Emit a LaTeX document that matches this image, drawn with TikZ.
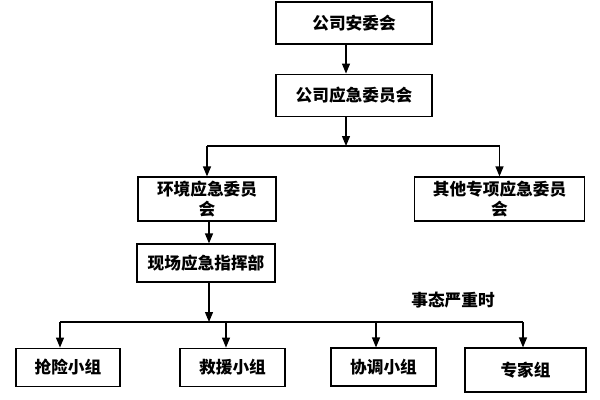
\documentclass[tikz,border=0pt]{standalone}
\usepackage{fontspec}
\newfontfamily\cjk{Noto Sans CJK SC}
\usetikzlibrary{arrows.meta}

\tikzset{
  box/.style={draw, line width=0.9pt, inner sep=0pt, align=center,
    font=\cjk\bfseries\fontsize{12.5}{15}\selectfont},
  arr/.style={line width=0.9pt, -{Triangle[length=7.5pt,width=6pt]}},
  bus/.style={line width=0.9pt}
}

\begin{document}
\begin{tikzpicture}[x=0.75pt, y=-0.75pt]
  \useasboundingbox (0,0) rectangle (600,400);
  % top
  \node[box, minimum width=117pt, minimum height=31.5pt] (anwei) at (354,23) {公司安委会};
  \node[box, minimum width=117pt, minimum height=32pt] (yingji) at (354,95.5) {公司应急委员会};
  \coordinate (axis) at (346,0);
  \draw[arr] (anwei.south -| axis) -- (yingji.north -| axis);
  % second level
  \node[box, minimum width=103.5pt, minimum height=33pt] (huanjing) at (207,199) {环境应急委员\\会};
  \node[box, minimum width=128pt, minimum height=33pt] (qita) at (499.5,199) {其他专项应急委员\\会};
  \coordinate (fork1) at (346,146);
  \draw[arr] (yingji.south -| fork1) -- (fork1);
  \draw[bus] (fork1 -| huanjing.north) -- (fork1 -| qita.north);
  \draw[arr] (fork1 -| huanjing.north) -- (huanjing.north);
  \draw[arr] (fork1 -| qita.north) -- (qita.north);
  % command
  \node[box, minimum width=103.5pt, minimum height=28.5pt] (xianchang) at (206,263) {现场应急指挥部};
  \coordinate (mid) at (209,322);
  \draw[arr] (huanjing.south -| mid) -- (xianchang.north -| mid);
  \draw[arr] (xianchang.south -| mid) -- (mid);
  % groups
  \node[box, minimum width=78pt, minimum height=29pt] (qiangxian) at (68,367.5) {抢险小组};
  \node[box, minimum width=78.75pt, minimum height=29pt] (jiuyuan) at (232.5,367.5) {救援小组};
  \node[box, minimum width=78.75pt, minimum height=28.5pt] (xietiao) at (383.5,367) {协调小组};
  \node[box, minimum width=90.75pt, minimum height=33pt] (zhuanjia) at (525.5,370) {专家组};
  \node[font=\cjk\bfseries\fontsize{12.5}{15}\selectfont, inner sep=0pt] (yanzhong) at (453,300) {事态严重时};
  \coordinate (t1) at (60,322);
  \coordinate (t2) at (226,322);
  \coordinate (t3) at (376,322);
  \coordinate (t4) at (523,322);
  \draw[bus] (t1) -- (t4);
  \draw[arr] (t1) -- (t1 |- qiangxian.north);
  \draw[arr] (t2) -- (t2 |- jiuyuan.north);
  \draw[arr] (t3) -- (t3 |- xietiao.north);
  \draw[arr] (t4) -- (t4 |- zhuanjia.north);
\end{tikzpicture}
\end{document}
